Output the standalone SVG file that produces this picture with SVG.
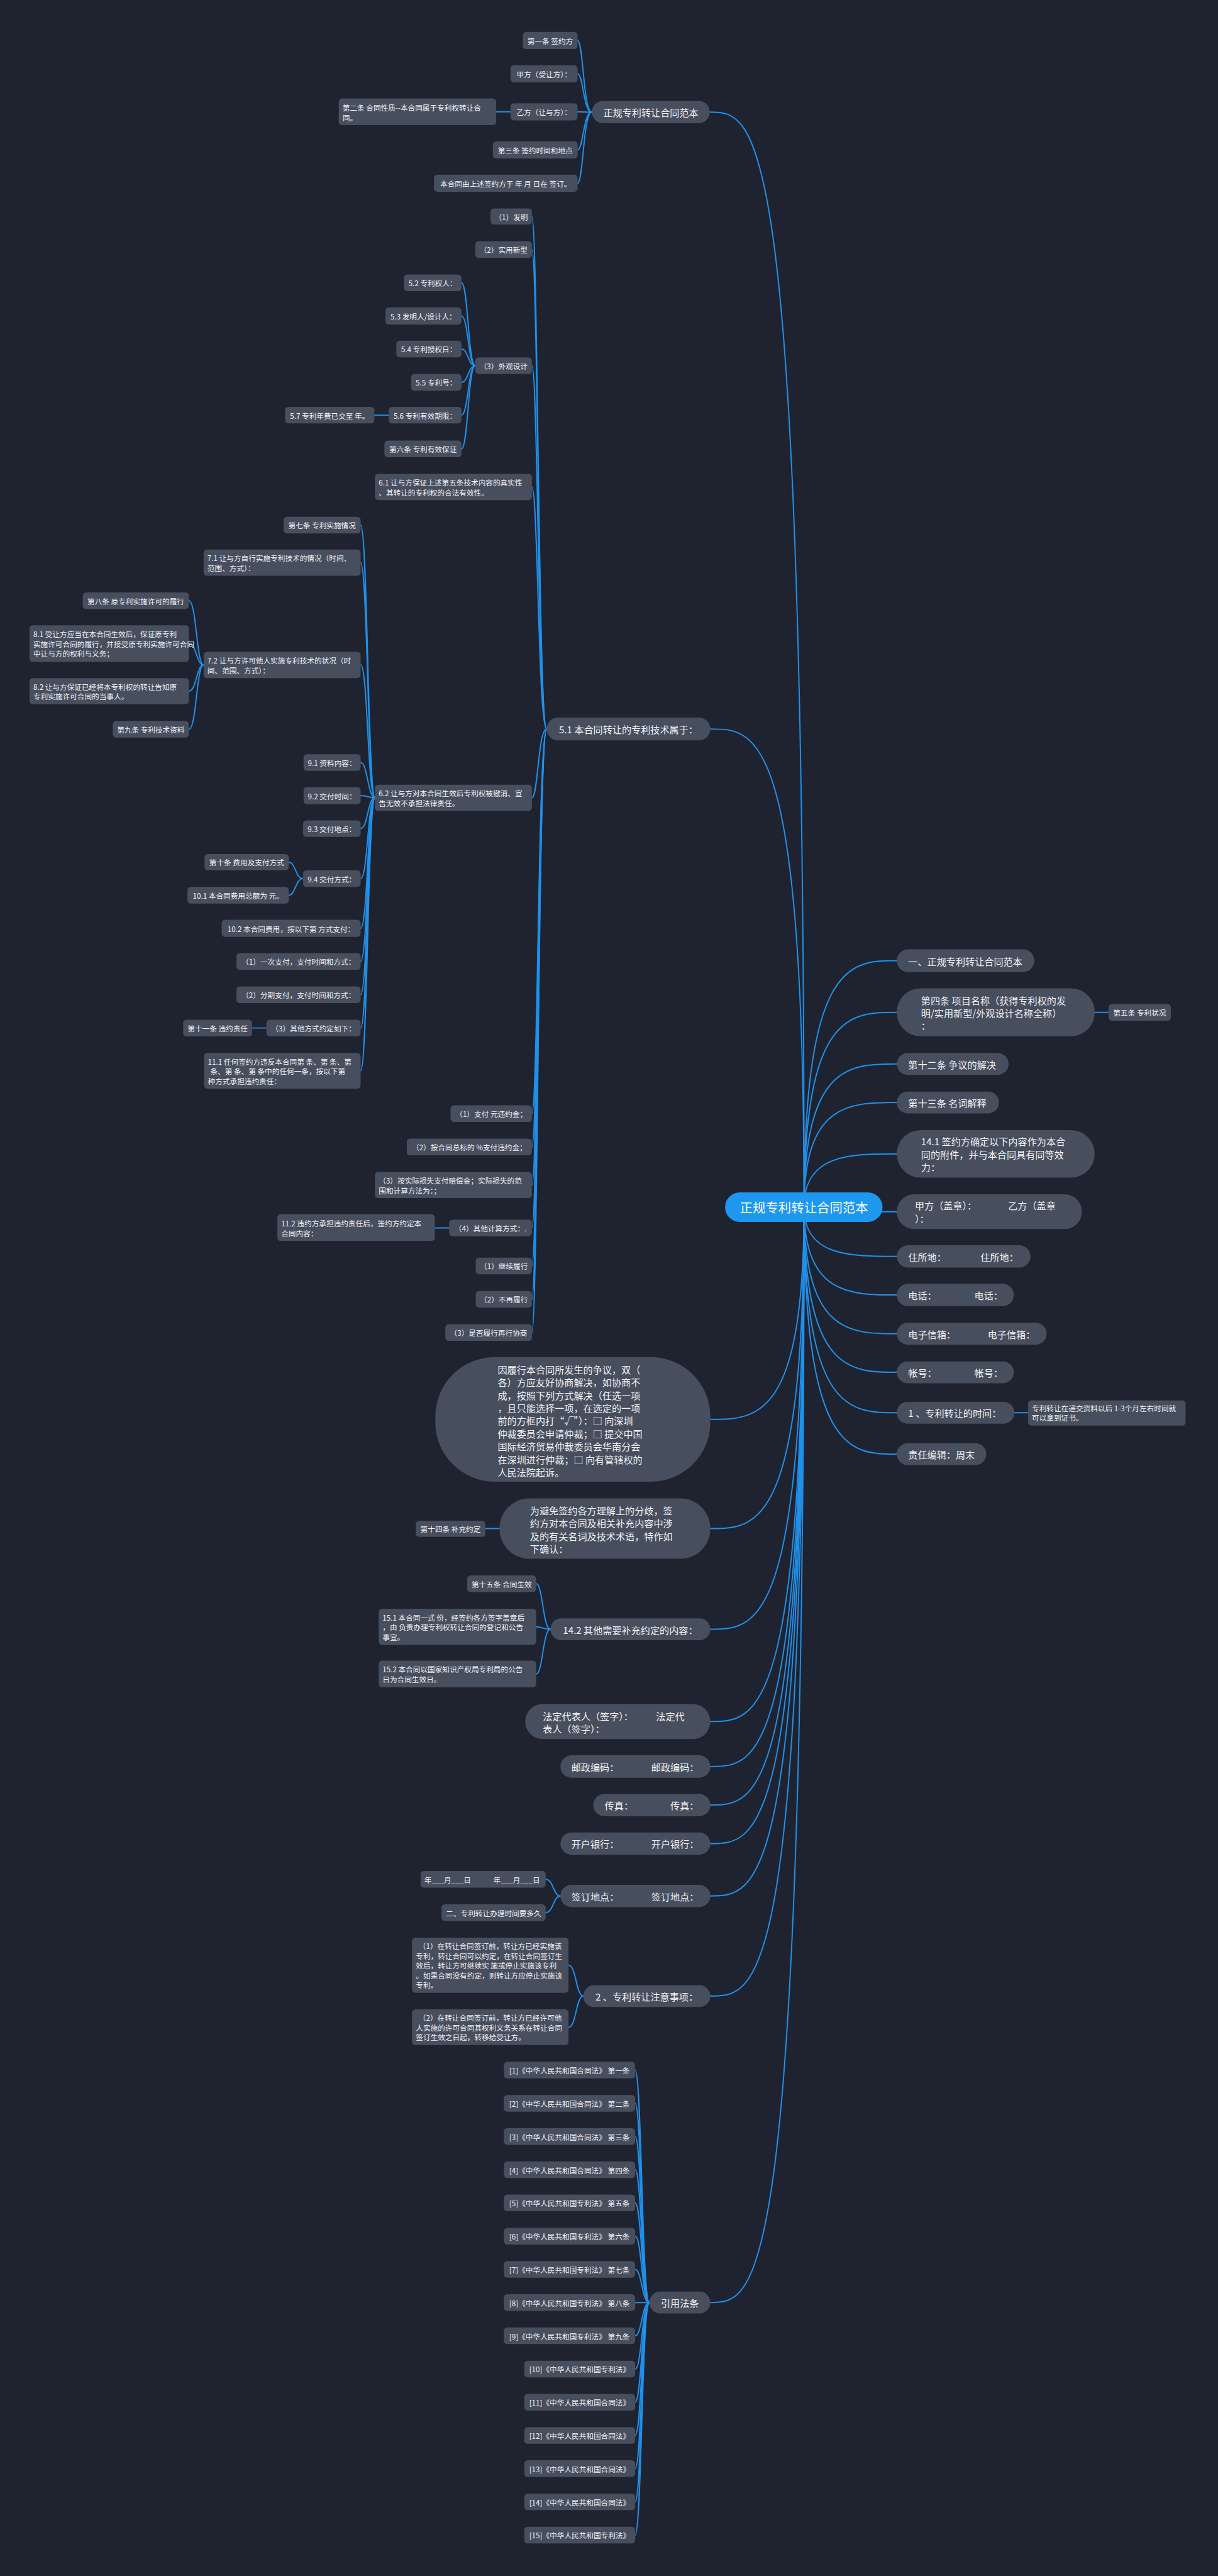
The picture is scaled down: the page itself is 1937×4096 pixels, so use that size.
<svg xmlns="http://www.w3.org/2000/svg" width="1937" height="4096" viewBox="0 0 1937 4096">
<style>
.n{fill:#474e5e}
.r{fill:#1e97ef}
.t{fill:#f3f4f6;font-family:'Noto Sans CJK SC','Noto Sans',sans-serif;font-size:15.4px;dominant-baseline:central}
.t1{font-size:20px}
.tr{font-size:27px;fill:#ffffff}
.m{text-anchor:middle}
.c path{fill:none;stroke:#2191ea;stroke-width:2.6;stroke-linecap:round}
</style>
<rect x="0" y="0" width="1937" height="4096" fill="#1f2330"/>
<g transform="scale(0.7566)">
<g class="c" id="connectors">
<path d="M1690 2537 C1690 235.5 1591 235.5 1492 235.5"/>
<path d="M1690 2537 C1690 1532 1591 1532 1493 1532"/>
<path d="M1690 2537 C1690 2983 1591 2983 1493 2983"/>
<path d="M1690 2537 C1690 3212.5 1591 3212.5 1493 3212.5"/>
<path d="M1690 2537 C1690 3424 1591 3424 1493 3424"/>
<path d="M1690 2537 C1690 3618 1591 3618 1493 3618"/>
<path d="M1690 2537 C1690 3712.5 1591 3712.5 1493 3712.5"/>
<path d="M1690 2537 C1690 3793.5 1591 3793.5 1493 3793.5"/>
<path d="M1690 2537 C1690 3874.5 1591 3874.5 1493 3874.5"/>
<path d="M1690 2537 C1690 3984.5 1591 3984.5 1493 3984.5"/>
<path d="M1690 2537 C1690 4195 1591 4195 1493 4195"/>
<path d="M1690 2537 C1690 4839 1591 4839 1493 4839"/>
<path d="M1690 2537 C1690 2019 1787 2019 1885 2019"/>
<path d="M1690 2537 C1690 2127.5 1787 2127.5 1885 2127.5"/>
<path d="M1690 2537 C1690 2236 1787 2236 1885 2236"/>
<path d="M1690 2537 C1690 2317 1787 2317 1885 2317"/>
<path d="M1690 2537 C1690 2425 1787 2425 1885 2425"/>
<path d="M1690 2537 C1690 2546.5 1787 2546.5 1885 2546.5"/>
<path d="M1690 2537 C1690 2640.5 1787 2640.5 1885 2640.5"/>
<path d="M1690 2537 C1690 2721.5 1787 2721.5 1885 2721.5"/>
<path d="M1690 2537 C1690 2803 1787 2803 1885 2803"/>
<path d="M1690 2537 C1690 2884 1787 2884 1885 2884"/>
<path d="M1690 2537 C1690 2969 1787 2969 1885 2969"/>
<path d="M1690 2537 C1690 3056 1787 3056 1885 3056"/>
<path d="M2301 2127.5 H2330"/>
<path d="M2132 2969 H2161"/>
<path d="M1244 235.5 C1226 235.5 1226 85 1214 85"/>
<path d="M1244 235.5 C1226 235.5 1226 155 1214 155"/>
<path d="M1244 235.5 C1226 235.5 1226 235 1214 235"/>
<path d="M1244 235.5 C1226 235.5 1226 315 1214 315"/>
<path d="M1244 235.5 C1226 235.5 1226 385 1214 385"/>
<path d="M1073 235 H1043"/>
<path d="M1149 1532 C1131 1532 1131 455 1118 455"/>
<path d="M1149 1532 C1131 1532 1131 524.5 1118 524.5"/>
<path d="M1149 1532 C1131 1532 1131 768.5 1118 768.5"/>
<path d="M1149 1532 C1131 1532 1131 1023.5 1118 1023.5"/>
<path d="M1149 1532 C1131 1532 1131 1676.5 1118 1676.5"/>
<path d="M1149 1532 C1131 1532 1131 2340.5 1118 2340.5"/>
<path d="M1149 1532 C1131 1532 1131 2410.5 1118 2410.5"/>
<path d="M1149 1532 C1131 1532 1131 2490.5 1118 2490.5"/>
<path d="M1149 1532 C1131 1532 1131 2580.5 1118 2580.5"/>
<path d="M1149 1532 C1131 1532 1131 2660.5 1118 2660.5"/>
<path d="M1149 1532 C1131 1532 1131 2730.5 1118 2730.5"/>
<path d="M1149 1532 C1131 1532 1131 2800.5 1118 2800.5"/>
<path d="M999 768.5 C984 768.5 984 594.5 970 594.5"/>
<path d="M999 768.5 C984 768.5 984 664 970 664"/>
<path d="M999 768.5 C984 768.5 984 733.5 970 733.5"/>
<path d="M999 768.5 C984 768.5 984 803.5 970 803.5"/>
<path d="M999 768.5 C984 768.5 984 872.5 970 872.5"/>
<path d="M999 768.5 C984 768.5 984 943.5 970 943.5"/>
<path d="M817 872.5 H787"/>
<path d="M788 1676.5 C773 1676.5 773 1103.5 758 1103.5"/>
<path d="M788 1676.5 C773 1676.5 773 1182.5 758 1182.5"/>
<path d="M788 1676.5 C773 1676.5 773 1397.5 758 1397.5"/>
<path d="M788 1676.5 C773 1676.5 773 1602.5 758 1602.5"/>
<path d="M788 1676.5 C773 1676.5 773 1672 758 1672"/>
<path d="M788 1676.5 C773 1676.5 773 1741.5 758 1741.5"/>
<path d="M788 1676.5 C773 1676.5 773 1846.5 758 1846.5"/>
<path d="M788 1676.5 C773 1676.5 773 1951 758 1951"/>
<path d="M788 1676.5 C773 1676.5 773 2020.5 758 2020.5"/>
<path d="M788 1676.5 C773 1676.5 773 2090.5 758 2090.5"/>
<path d="M788 1676.5 C773 1676.5 773 2160.5 758 2160.5"/>
<path d="M788 1676.5 C773 1676.5 773 2250.5 758 2250.5"/>
<path d="M428 1397.5 C413 1397.5 413 1262.5 397 1262.5"/>
<path d="M428 1397.5 C413 1397.5 413 1352.5 397 1352.5"/>
<path d="M428 1397.5 C413 1397.5 413 1452.5 397 1452.5"/>
<path d="M428 1397.5 C413 1397.5 413 1532.5 397 1532.5"/>
<path d="M637 1846.5 C621 1846.5 621 1812 607 1812"/>
<path d="M637 1846.5 C621 1846.5 621 1881.5 607 1881.5"/>
<path d="M560 2160.5 H530"/>
<path d="M944 2580.5 H914"/>
<path d="M1050 3212.5 H1020"/>
<path d="M1157 3424 C1141 3424 1141 3328.5 1127 3328.5"/>
<path d="M1157 3424 C1141 3424 1141 3419 1127 3419"/>
<path d="M1157 3424 C1141 3424 1141 3518 1127 3518"/>
<path d="M1178 3984.5 C1163 3984.5 1163 3949.5 1147 3949.5"/>
<path d="M1178 3984.5 C1163 3984.5 1163 4019.5 1147 4019.5"/>
<path d="M1226 4195 C1211 4195 1211 4130 1195 4130"/>
<path d="M1226 4195 C1211 4195 1211 4260.5 1195 4260.5"/>
<path d="M1365 4839 C1349 4839 1349 4350.5 1335 4350.5"/>
<path d="M1365 4839 C1349 4839 1349 4420.3 1335 4420.3"/>
<path d="M1365 4839 C1349 4839 1349 4490.1 1335 4490.1"/>
<path d="M1365 4839 C1349 4839 1349 4559.9 1335 4559.9"/>
<path d="M1365 4839 C1349 4839 1349 4629.7 1335 4629.7"/>
<path d="M1365 4839 C1349 4839 1349 4699.5 1335 4699.5"/>
<path d="M1365 4839 C1349 4839 1349 4769.3 1335 4769.3"/>
<path d="M1365 4839 C1349 4839 1349 4839.1 1335 4839.1"/>
<path d="M1365 4839 C1349 4839 1349 4908.9 1335 4908.9"/>
<path d="M1365 4839 C1349 4839 1349 4978.7 1335 4978.7"/>
<path d="M1365 4839 C1349 4839 1349 5048.5 1335 5048.5"/>
<path d="M1365 4839 C1349 4839 1349 5118.3 1335 5118.3"/>
<path d="M1365 4839 C1349 4839 1349 5188.1 1335 5188.1"/>
<path d="M1365 4839 C1349 4839 1349 5257.9 1335 5257.9"/>
<path d="M1365 4839 C1349 4839 1349 5327.7 1335 5327.7"/>
</g>

<g id="root"><rect class="r" x="1524" y="2506" width="331" height="62" rx="31"/><text class="t tr m" x="1690" y="2537">正规专利转让合同范本</text></g>

<!-- Branch A -->
<g id="a"><rect class="n" x="1244" y="212" width="248" height="47" rx="23.5"/><text class="t t1 m" x="1368" y="235.5">正规专利转让合同范本</text></g>
<g id="a1"><rect class="n" x="1099" y="67" width="115" height="36" rx="7"/><text class="t m" x="1156.5" y="85">第一条 签约方</text></g>
<g id="a2"><rect class="n" x="1073" y="137" width="141" height="36" rx="7"/><text class="t m" x="1143.5" y="155">甲方（受让方）：</text></g>
<g id="a3"><rect class="n" x="1073" y="217" width="141" height="36" rx="7"/><text class="t m" x="1143.5" y="235">乙方（让与方）：</text></g>
<g id="a3a"><rect class="n" x="712" y="207" width="331" height="56" rx="7"/><text class="t" x="720" y="225">第二条 合同性质--本合同属于专利权转让合</text><text class="t" x="720" y="246">同。</text></g>
<g id="a4"><rect class="n" x="1036" y="297" width="178" height="36" rx="7"/><text class="t m" x="1125" y="315">第三条 签约时间和地点</text></g>
<g id="a5"><rect class="n" x="912" y="367" width="302" height="36" rx="7"/><text class="t m" x="1063" y="385">本合同由上述签约方于 年 月 日在 签订。</text></g>

<!-- Branch B -->
<g id="b"><rect class="n" x="1149" y="1508" width="344" height="48" rx="24"/><text class="t t1 m" x="1321" y="1532">5.1 本合同转让的专利技术属于：</text></g>
<g id="b1"><rect class="n" x="1031" y="438" width="87" height="34" rx="7"/><text class="t m" x="1074.5" y="455">（1）发明</text></g>
<g id="b2"><rect class="n" x="999" y="507" width="119" height="35" rx="7"/><text class="t m" x="1058.5" y="524.5">（2）实用新型</text></g>
<g id="b3"><rect class="n" x="999" y="751" width="119" height="35" rx="7"/><text class="t m" x="1058.5" y="768.5">（3）外观设计</text></g>
<g id="b3a"><rect class="n" x="849" y="577" width="121" height="35" rx="7"/><text class="t m" x="909.5" y="594.5">5.2 专利权人：</text></g>
<g id="b3b"><rect class="n" x="810" y="646" width="160" height="36" rx="7"/><text class="t m" x="890" y="664">5.3 发明人/设计人：</text></g>
<g id="b3c"><rect class="n" x="833" y="716" width="137" height="35" rx="7"/><text class="t m" x="901.5" y="733.5">5.4 专利授权日：</text></g>
<g id="b3d"><rect class="n" x="864" y="786" width="106" height="35" rx="7"/><text class="t m" x="917" y="803.5">5.5 专利号：</text></g>
<g id="b3e"><rect class="n" x="817" y="855" width="153" height="35" rx="7"/><text class="t m" x="893.5" y="872.5">5.6 专利有效期限：</text></g>
<g id="b3e1"><rect class="n" x="599" y="855" width="188" height="35" rx="7"/><text class="t m" x="693" y="872.5">5.7 专利年费已交至 年。</text></g>
<g id="b3f"><rect class="n" x="808" y="926" width="162" height="35" rx="7"/><text class="t m" x="889" y="943.5">第六条 专利有效保证</text></g>
<g id="b4"><rect class="n" x="788" y="996" width="330" height="55" rx="7"/><text class="t" x="796" y="1013">6.1 让与方保证上述第五条技术内容的真实性</text><text class="t" x="796" y="1034">、其转让的专利权的合法有效性。</text></g>
<g id="b5"><rect class="n" x="788" y="1649" width="330" height="55" rx="7"/><text class="t" x="796" y="1666">6.2 让与方对本合同生效后专利权被撤消、宣</text><text class="t" x="796" y="1687">告无效不承担法律责任。</text></g>
<g id="b5a"><rect class="n" x="596" y="1086" width="162" height="35" rx="7"/><text class="t m" x="677" y="1103.5">第七条 专利实施情况</text></g>
<g id="b5b"><rect class="n" x="428" y="1155" width="330" height="55" rx="7"/><text class="t" x="436" y="1172">7.1 让与方自行实施专利技术的情况（时间、</text><text class="t" x="436" y="1193">范围、方式）：</text></g>
<g id="b5c"><rect class="n" x="428" y="1370" width="330" height="55" rx="7"/><text class="t" x="436" y="1387">7.2 让与方许可他人实施专利技术的状况（时</text><text class="t" x="436" y="1408">间、范围、方式）：</text></g>
<g id="b5c1"><rect class="n" x="174" y="1245" width="223" height="35" rx="7"/><text class="t m" x="285.5" y="1262.5">第八条 原专利实施许可的履行</text></g>
<g id="b5c2"><rect class="n" x="62" y="1314" width="335" height="77" rx="7"/><text class="t" x="70" y="1332">8.1 受让方应当在本合同生效后，保证原专利</text><text class="t" x="70" y="1352.5">实施许可合同的履行，并接受原专利实施许可合同</text><text class="t" x="70" y="1373">中让与方的权利与义务；</text></g>
<g id="b5c3"><rect class="n" x="62" y="1425" width="335" height="55" rx="7"/><text class="t" x="70" y="1442">8.2 让与方保证已经将本专利权的转让告知原</text><text class="t" x="70" y="1463">专利实施许可合同的当事人。</text></g>
<g id="b5c4"><rect class="n" x="237" y="1515" width="160" height="35" rx="7"/><text class="t m" x="317" y="1532.5">第九条 专利技术资料</text></g>
<g id="b5d"><rect class="n" x="638" y="1585" width="120" height="35" rx="7"/><text class="t m" x="698" y="1602.5">9.1 资料内容：</text></g>
<g id="b5e"><rect class="n" x="638" y="1654" width="120" height="36" rx="7"/><text class="t m" x="698" y="1672">9.2 交付时间：</text></g>
<g id="b5f"><rect class="n" x="637" y="1724" width="121" height="35" rx="7"/><text class="t m" x="697.5" y="1741.5">9.3 交付地点：</text></g>
<g id="b5g"><rect class="n" x="637" y="1829" width="121" height="35" rx="7"/><text class="t m" x="697.5" y="1846.5">9.4 交付方式：</text></g>
<g id="b5g1"><rect class="n" x="430" y="1795" width="177" height="34" rx="7"/><text class="t m" x="518.5" y="1812">第十条 费用及支付方式</text></g>
<g id="b5g2"><rect class="n" x="394" y="1864" width="213" height="35" rx="7"/><text class="t m" x="500.5" y="1881.5">10.1 本合同费用总额为 元。</text></g>
<g id="b5h"><rect class="n" x="466" y="1933" width="292" height="36" rx="7"/><text class="t m" x="612" y="1951">10.2 本合同费用，按以下第 方式支付：</text></g>
<g id="b5i"><rect class="n" x="497" y="2003" width="261" height="35" rx="7"/><text class="t m" x="627.5" y="2020.5">（1）一次支付，支付时间和方式：</text></g>
<g id="b5j"><rect class="n" x="497" y="2073" width="261" height="35" rx="7"/><text class="t m" x="627.5" y="2090.5">（2）分期支付，支付时间和方式：</text></g>
<g id="b5k"><rect class="n" x="560" y="2143" width="198" height="35" rx="7"/><text class="t m" x="659" y="2160.5">（3）其他方式约定如下：</text></g>
<g id="b5k1"><rect class="n" x="385" y="2143" width="145" height="35" rx="7"/><text class="t m" x="457.5" y="2160.5">第十一条 违约责任</text></g>
<g id="b5l"><rect class="n" x="429" y="2213" width="329" height="75" rx="7"/><text class="t" x="437" y="2230">11.1 任何签约方违反本合同第 条、第 条、第</text><text class="t" x="442" y="2250.5">条、第 条、第 条中的任何一条，按以下第</text><text class="t" x="437" y="2271">种方式承担违约责任：</text></g>
<g id="b6"><rect class="n" x="947" y="2323" width="171" height="35" rx="7"/><text class="t m" x="1032.5" y="2340.5">（1）支付 元违约金；</text></g>
<g id="b7"><rect class="n" x="855" y="2393" width="263" height="35" rx="7"/><text class="t m" x="986.5" y="2410.5">（2）按合同总标的 %支付违约金；</text></g>
<g id="b8"><rect class="n" x="788" y="2463" width="330" height="55" rx="7"/><text class="t" x="796" y="2480">（3）按实际损失支付赔偿金；实际损失的范</text><text class="t" x="796" y="2501">围和计算方法为：；</text></g>
<g id="b9"><rect class="n" x="944" y="2563" width="174" height="35" rx="7"/><text class="t m" x="1031" y="2580.5">（4）其他计算方式：.</text></g>
<g id="b9a"><rect class="n" x="583" y="2552" width="331" height="56" rx="7"/><text class="t" x="591" y="2570">11.2 违约方承担违约责任后，签约方约定本</text><text class="t" x="591" y="2591">合同内容：</text></g>
<g id="b10"><rect class="n" x="1000" y="2643" width="118" height="35" rx="7"/><text class="t m" x="1059" y="2660.5">（1）继续履行</text></g>
<g id="b11"><rect class="n" x="1000" y="2713" width="118" height="35" rx="7"/><text class="t m" x="1059" y="2730.5">（2）不再履行</text></g>
<g id="b12"><rect class="n" x="936" y="2783" width="182" height="35" rx="7"/><text class="t m" x="1027" y="2800.5">（3）是否履行再行协商</text></g>

<!-- Branch C, D, E -->
<g id="c"><rect class="n" x="915" y="2852" width="578" height="262" rx="125"/>
<text class="t t1" x="1046" y="2877">因履行本合同所发生的争议，双（</text>
<text class="t t1" x="1046" y="2904">各）方应友好协商解决，如协商不</text>
<text class="t t1" x="1046" y="2931">成，按照下列方式解决（任选一项</text>
<text class="t t1" x="1046" y="2958">，且只能选择一项，在选定的一项</text>
<text class="t t1" x="1046" y="2985">前的方框内打“√”）：□ 向深圳</text>
<text class="t t1" x="1046" y="3012">仲裁委员会申请仲裁；□ 提交中国</text>
<text class="t t1" x="1046" y="3039">国际经济贸易仲裁委员会华南分会</text>
<text class="t t1" x="1046" y="3066">在深圳进行仲裁；□ 向有管辖权的</text>
<text class="t t1" x="1046" y="3093">人民法院起诉。</text></g>
<g id="d"><rect class="n" x="1050" y="3149" width="443" height="127" rx="63"/>
<text class="t t1" x="1114" y="3173">为避免签约各方理解上的分歧，签</text>
<text class="t t1" x="1114" y="3200">约方对本合同及相关补充内容中涉</text>
<text class="t t1" x="1114" y="3227">及的有关名词及技术术语，特作如</text>
<text class="t t1" x="1114" y="3254">下确认：</text></g>
<g id="d1"><rect class="n" x="874" y="3196" width="146" height="34" rx="7"/><text class="t m" x="947" y="3213">第十四条 补充约定</text></g>
<g id="e"><rect class="n" x="1157" y="3401" width="336" height="46" rx="23"/><text class="t t1 m" x="1325" y="3424">14.2 其他需要补充约定的内容：</text></g>
<g id="e1"><rect class="n" x="982" y="3311" width="145" height="35" rx="7"/><text class="t m" x="1054.5" y="3328.5">第十五条 合同生效</text></g>
<g id="e2"><rect class="n" x="796" y="3381" width="331" height="76" rx="7"/><text class="t" x="804" y="3398.5">15.1 本合同一式 份，经签约各方签字盖章后</text><text class="t" x="804" y="3419">，由 负责办理专利权转让合同的登记和公告</text><text class="t" x="804" y="3439.5">事宜。</text></g>
<g id="e3"><rect class="n" x="796" y="3490" width="331" height="56" rx="7"/><text class="t" x="804" y="3507.5">15.2 本合同以国家知识产权局专利局的公告</text><text class="t" x="804" y="3528.5">日为合同生效日。</text></g>

<!-- F..L -->
<g id="f"><rect class="n" x="1104" y="3581" width="389" height="74" rx="37"/><text class="t t1" x="1141" y="3605"><tspan x="1141">法定代表人（签字）：</tspan><tspan x="1379">法定代</tspan></text><text class="t t1" x="1141" y="3632">表人（签字）：</text></g>
<g id="g"><rect class="n" x="1178" y="3689" width="315" height="47" rx="23.5"/><text class="t t1" y="3712.5"><tspan x="1201">邮政编码：</tspan><tspan x="1369">邮政编码：</tspan></text></g>
<g id="h"><rect class="n" x="1247" y="3770" width="246" height="47" rx="23.5"/><text class="t t1" y="3793.5"><tspan x="1271">传真：</tspan><tspan x="1409">传真：</tspan></text></g>
<g id="i"><rect class="n" x="1178" y="3851" width="315" height="47" rx="23.5"/><text class="t t1" y="3874.5"><tspan x="1201">开户银行：</tspan><tspan x="1369">开户银行：</tspan></text></g>
<g id="j"><rect class="n" x="1178" y="3961" width="315" height="47" rx="23.5"/><text class="t t1" y="3984.5"><tspan x="1201">签订地点：</tspan><tspan x="1369">签订地点：</tspan></text></g>
<g id="j1"><rect class="n" x="884" y="3932" width="263" height="35" rx="7"/><text class="t" y="3949.5"><tspan x="892">年___月___日</tspan><tspan x="1037">年___月___日</tspan></text></g>
<g id="j2"><rect class="n" x="928" y="4002" width="219" height="35" rx="7"/><text class="t m" x="1037.5" y="4019.5">二、专利转让办理时间要多久</text></g>
<g id="k"><rect class="n" x="1226" y="4172" width="267" height="46" rx="23"/><text class="t t1 m" x="1359.5" y="4195">2 、专利转让注意事项：</text></g>
<g id="k1"><rect class="n" x="866" y="4072" width="329" height="116" rx="7"/>
<text class="t" x="880" y="4089">（1）在转让合同签订前，转让方已经实施该</text>
<text class="t" x="874" y="4109.5">专利，转让合同可以约定，在转让合同签订生</text>
<text class="t" x="874" y="4130">效后，转让方可继续实 施或停止实施该专利</text>
<text class="t" x="874" y="4150.5">。如果合同没有约定，则转让方应停止实施该</text>
<text class="t" x="874" y="4171">专利。</text></g>
<g id="k2"><rect class="n" x="866" y="4223" width="329" height="75" rx="7"/>
<text class="t" x="880" y="4240">（2）在转让合同签订前，转让方已经许可他</text>
<text class="t" x="874" y="4260.5">人实施的许可合同其权利义务关系在转让合同</text>
<text class="t" x="874" y="4281">签订生效之日起，转移给受让方。</text></g>
<g id="l"><rect class="n" x="1365" y="4816" width="128" height="46" rx="23"/><text class="t t1 m" x="1429" y="4839">引用法条</text></g>
<g id="l1"><rect class="n" x="1059" y="4333" width="276" height="35" rx="7"/><text class="t m" x="1197" y="4350.5">[1]《中华人民共和国合同法》 第一条</text></g>
<g id="l2"><rect class="n" x="1059" y="4402.8" width="276" height="35" rx="7"/><text class="t m" x="1197" y="4420.3">[2]《中华人民共和国合同法》 第二条</text></g>
<g id="l3"><rect class="n" x="1059" y="4472.6" width="276" height="35" rx="7"/><text class="t m" x="1197" y="4490.1">[3]《中华人民共和国合同法》 第三条</text></g>
<g id="l4"><rect class="n" x="1059" y="4542.4" width="276" height="35" rx="7"/><text class="t m" x="1197" y="4559.9">[4]《中华人民共和国合同法》 第四条</text></g>
<g id="l5"><rect class="n" x="1059" y="4612.2" width="276" height="35" rx="7"/><text class="t m" x="1197" y="4629.7">[5]《中华人民共和国专利法》 第五条</text></g>
<g id="l6"><rect class="n" x="1059" y="4682" width="276" height="35" rx="7"/><text class="t m" x="1197" y="4699.5">[6]《中华人民共和国专利法》 第六条</text></g>
<g id="l7"><rect class="n" x="1059" y="4751.8" width="276" height="35" rx="7"/><text class="t m" x="1197" y="4769.3">[7]《中华人民共和国专利法》 第七条</text></g>
<g id="l8"><rect class="n" x="1059" y="4821.6" width="276" height="35" rx="7"/><text class="t m" x="1197" y="4839.1">[8]《中华人民共和国专利法》 第八条</text></g>
<g id="l9"><rect class="n" x="1059" y="4891.4" width="276" height="35" rx="7"/><text class="t m" x="1197" y="4908.9">[9]《中华人民共和国专利法》 第九条</text></g>
<g id="l10"><rect class="n" x="1102" y="4961.2" width="233" height="35" rx="7"/><text class="t m" x="1218.5" y="4978.7">[10]《中华人民共和国专利法》</text></g>
<g id="l11"><rect class="n" x="1102" y="5031" width="233" height="35" rx="7"/><text class="t m" x="1218.5" y="5048.5">[11]《中华人民共和国合同法》</text></g>
<g id="l12"><rect class="n" x="1102" y="5100.8" width="233" height="35" rx="7"/><text class="t m" x="1218.5" y="5118.3">[12]《中华人民共和国合同法》</text></g>
<g id="l13"><rect class="n" x="1102" y="5170.6" width="233" height="35" rx="7"/><text class="t m" x="1218.5" y="5188.1">[13]《中华人民共和国合同法》</text></g>
<g id="l14"><rect class="n" x="1102" y="5240.4" width="233" height="35" rx="7"/><text class="t m" x="1218.5" y="5257.9">[14]《中华人民共和国合同法》</text></g>
<g id="l15"><rect class="n" x="1102" y="5310.2" width="233" height="35" rx="7"/><text class="t m" x="1218.5" y="5327.7">[15]《中华人民共和国专利法》</text></g>

<!-- Right side -->
<g id="r1"><rect class="n" x="1885" y="1995" width="289" height="48" rx="24"/><text class="t t1" x="1909" y="2019">一、正规专利转让合同范本</text></g>
<g id="r2"><rect class="n" x="1885" y="2077" width="416" height="101" rx="50"/><text class="t t1" x="1936" y="2101">第四条 项目名称（获得专利权的发</text><text class="t t1" x="1936" y="2128">明/实用新型/外观设计名称全称）</text><text class="t t1" x="1936" y="2155">：</text></g>
<g id="r2a"><rect class="n" x="2330" y="2110" width="131" height="35" rx="7"/><text class="t m" x="2395.5" y="2127.5">第五条 专利状况</text></g>
<g id="r3"><rect class="n" x="1885" y="2213" width="235" height="46" rx="23"/><text class="t t1" x="1909" y="2236">第十二条 争议的解决</text></g>
<g id="r4"><rect class="n" x="1885" y="2294" width="215" height="46" rx="23"/><text class="t t1" x="1909" y="2317">第十三条 名词解释</text></g>
<g id="r5"><rect class="n" x="1885" y="2375" width="416" height="100" rx="50"/><text class="t t1" x="1936" y="2398">14.1 签约方确定以下内容作为本合</text><text class="t t1" x="1936" y="2425">同的附件，并与本合同具有同等效</text><text class="t t1" x="1936" y="2452">力：</text></g>
<g id="r6"><rect class="n" x="1885" y="2510" width="389" height="73" rx="36"/><text class="t t1" y="2533"><tspan x="1923">甲方（盖章）：</tspan><tspan x="2119">乙方（盖章</tspan></text><text class="t t1" x="1923" y="2560">）：</text></g>
<g id="r7"><rect class="n" x="1885" y="2617" width="281" height="47" rx="23.5"/><text class="t t1" y="2640.5"><tspan x="1909">住所地：</tspan><tspan x="2061">住所地：</tspan></text></g>
<g id="r8"><rect class="n" x="1885" y="2698" width="246" height="47" rx="23.5"/><text class="t t1" y="2721.5"><tspan x="1909">电话：</tspan><tspan x="2048">电话：</tspan></text></g>
<g id="r9"><rect class="n" x="1885" y="2780" width="315" height="46" rx="23"/><text class="t t1" y="2803"><tspan x="1909">电子信箱：</tspan><tspan x="2076">电子信箱：</tspan></text></g>
<g id="r10"><rect class="n" x="1885" y="2861" width="246" height="46" rx="23"/><text class="t t1" y="2884"><tspan x="1909">帐号：</tspan><tspan x="2048">帐号：</tspan></text></g>
<g id="r11"><rect class="n" x="1885" y="2946" width="247" height="46" rx="23"/><text class="t t1" x="1909" y="2969">1 、专利转让的时间：</text></g>
<g id="r11a"><rect class="n" x="2161" y="2943" width="331" height="53" rx="7"/><text class="t" x="2169" y="2959">专利转让在递交资料以后 1-3个月左右时间就</text><text class="t" x="2169" y="2979">可以拿到证书。</text></g>
<g id="r12"><rect class="n" x="1885" y="3033" width="188" height="46" rx="23"/><text class="t t1" x="1909" y="3056">责任编辑：周末</text></g>
</g>
</svg>
